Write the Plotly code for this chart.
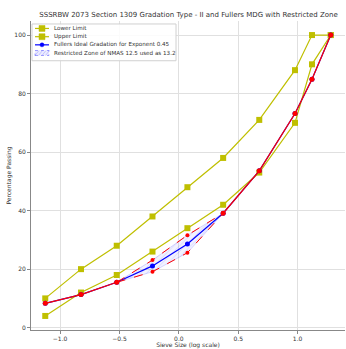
import plotly.graph_objects as go

sieve_log = [-1.125, -0.824, -0.523, -0.222, 0.072, 0.373, 0.677, 0.978, 1.121, 1.279]
lower_limit = [4, 12, 18, 26, 34, 42, 53, 70, 90, 100]
upper_limit = [10, 20, 28, 38, 48, 58, 71, 88, 100, 100]
fuller = [8.3, 11.3, 15.5, 21.1, 28.6, 39.1, 53.6, 73.2, 84.9, 100]
zone_log = [-0.523, -0.222, 0.072, 0.373]
zone_lower = [15.5, 19.1, 25.6, 39.1]
zone_upper = [15.5, 23.1, 31.6, 39.1]
legend_labels = ["Lower Limit", "Upper Limit", "Fullers Ideal Gradation for Exponent 0.45",
                 "Restricted Zone of NMAS 12.5 used as 13.2"]

YEL = "#bfbf00"
FONT = "DejaVu Sans"
W, H = 346, 349
ML, MR, MT, MB = 31, 1, 21, 17

fig = go.Figure()
fig.add_trace(go.Scatter(x=sieve_log, y=lower_limit, mode="lines+markers", name=legend_labels[0],
                         line=dict(color=YEL, width=1.2),
                         marker=dict(symbol="square", size=6, color=YEL)))
fig.add_trace(go.Scatter(x=sieve_log, y=upper_limit, mode="lines+markers", name=legend_labels[1],
                         line=dict(color=YEL, width=1.2),
                         marker=dict(symbol="square", size=6, color=YEL)))
fig.add_trace(go.Scatter(x=zone_log, y=zone_lower, mode="lines", showlegend=False,
                         line=dict(color="rgba(0,0,255,0.3)", width=0.5), hoverinfo="skip"))
fig.add_trace(go.Scatter(x=zone_log, y=zone_upper, mode="lines", name=legend_labels[3],
                         fill="tonexty", fillcolor="rgba(0,0,255,0.08)",
                         fillpattern=dict(shape="/", fgcolor="rgba(0,0,255,0.35)", bgcolor="rgba(0,0,255,0.05)", size=4, solidity=0.15),
                         line=dict(color="rgba(0,0,255,0.3)", width=0.5)))
fig.add_trace(go.Scatter(x=sieve_log, y=fuller, mode="lines+markers", name=legend_labels[2],
                         line=dict(color="blue", width=1.2),
                         marker=dict(symbol="circle", size=5, color="blue")))
fig.add_trace(go.Scatter(x=sieve_log[:3], y=fuller[:3], mode="lines+markers",
                         line=dict(color="red", width=1.2), marker=dict(size=5, color="red")))
fig.add_trace(go.Scatter(x=sieve_log[5:], y=fuller[5:], mode="lines+markers",
                         line=dict(color="red", width=1.2), marker=dict(size=5, color="red")))
fig.add_trace(go.Scatter(x=zone_log, y=zone_lower, mode="lines+markers",
                         line=dict(color="red", width=1, dash="dash"), marker=dict(size=4, color="red")))
fig.add_trace(go.Scatter(x=zone_log, y=zone_upper, mode="lines+markers",
                         line=dict(color="red", width=1, dash="dash"), marker=dict(size=4, color="red")))

# manual compact legend (paper coordinates)
pw, ph = W - ML - MR, H - MT - MB
def px(x): return (x - ML) / pw
def py(y): return 1 - (y - MT) / ph

shapes = []
annots = []
shapes.append(dict(type="rect", xref="paper", yref="paper", x0=px(32), x1=px(176), y0=py(61), y1=py(24),
                   line=dict(color="#d0d0d0", width=1), fillcolor="rgba(255,255,255,0.85)", layer="above"))
item_y = [28.5, 36.8, 45, 53.2]
for i, yy in enumerate(item_y):
    if i < 2:
        shapes.append(dict(type="line", xref="paper", yref="paper", x0=px(35), x1=px(49), y0=py(yy), y1=py(yy),
                           line=dict(color=YEL, width=1.2), layer="above"))
        shapes.append(dict(type="rect", xref="paper", yref="paper", x0=px(39), x1=px(45), y0=py(yy + 3), y1=py(yy - 3),
                           line=dict(color=YEL, width=0.5), fillcolor=YEL, layer="above"))
    elif i == 2:
        shapes.append(dict(type="line", xref="paper", yref="paper", x0=px(35), x1=px(49), y0=py(yy), y1=py(yy),
                           line=dict(color="blue", width=1.2), layer="above"))
        shapes.append(dict(type="circle", xref="paper", yref="paper", x0=px(40), x1=px(44), y0=py(yy + 2), y1=py(yy - 2),
                           line=dict(color="blue", width=0.5), fillcolor="blue", layer="above"))
    else:
        shapes.append(dict(type="rect", xref="paper", yref="paper", x0=px(35), x1=px(49), y0=py(yy + 2.5), y1=py(yy - 2.5),
                           line=dict(color="rgba(0,0,255,0.6)", width=0.6, dash="dot"),
                           fillcolor="rgba(0,0,255,0.08)", layer="above"))
        for k in range(4):
            x0 = 35 + k * 3.5
            shapes.append(dict(type="line", xref="paper", yref="paper", x0=px(x0), x1=px(x0 + 4), y0=py(yy + 2.5), y1=py(yy - 2.5),
                               line=dict(color="rgba(0,0,255,0.35)", width=0.5), layer="above"))
    annots.append(dict(xref="paper", yref="paper", x=px(52), y=py(yy), xanchor="left", yanchor="middle",
                       text=legend_labels[i], showarrow=False, font=dict(size=5.6, color="#333")))

fig.update_layout(
    width=W, height=H,
    margin=dict(l=ML, r=MR, t=MT, b=MB),
    paper_bgcolor="white", plot_bgcolor="white",
    font=dict(family=FONT, size=6, color="#333"),
    title=dict(text="SSSRBW 2073 Section 1309 Gradation Type - II and Fullers MDG with Restricted Zone",
               x=0.545, xanchor="center", y=0.958, yanchor="middle", font=dict(size=7, color="#333")),
    showlegend=False,
    shapes=shapes, annotations=annots,
)
fig.update_xaxes(range=[-1.245, 1.399], tickvals=[-1.0, -0.5, 0.0, 0.5, 1.0], tickformat=".1f",
                 showgrid=True, gridcolor="#e0e0e0", gridwidth=1, zeroline=False,
                 showline=True, linecolor="#888", linewidth=1, ticks="outside", ticklen=3, tickcolor="#888",
                 title=dict(text="Sieve Size (log scale)", font=dict(size=6), standoff=2))
fig.update_yaxes(range=[-0.8, 104.8], tickvals=[0, 20, 40, 60, 80, 100],
                 showgrid=True, gridcolor="#e0e0e0", gridwidth=1, zeroline=False,
                 showline=True, linecolor="#888", linewidth=1, ticks="outside", ticklen=3, tickcolor="#888",
                 title=dict(text="Percentage Passing", font=dict(size=6), standoff=2))
fig.write_html("out.html")
